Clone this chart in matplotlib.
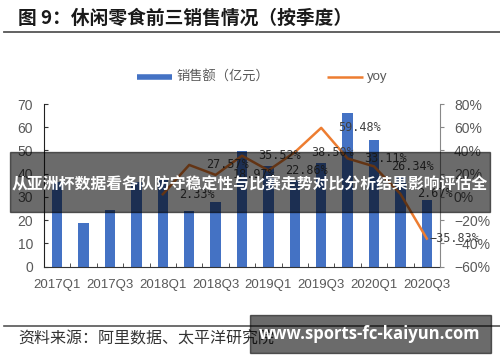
import matplotlib
matplotlib.use("Agg")
import numpy as np
from matplotlib import pyplot as plt
from matplotlib.lines import Line2D
from matplotlib.patches import Rectangle
from matplotlib.ticker import FuncFormatter, MultipleLocator

CJK = ['Noto Sans CJK SC', 'DejaVu Sans']
plt.rcParams['font.family'] = CJK

quarters = ['2017Q1', '2017Q2', '2017Q3', '2017Q4',
            '2018Q1', '2018Q2', '2018Q3', '2018Q4',
            '2019Q1', '2019Q2', '2019Q3', '2019Q4',
            '2020Q1', '2020Q2', '2020Q3']
sales = [36.3, 18.7, 24.4, 36.6, 37.2, 23.8, 27.8, 49.6,
         43.2, 37.5, 44.5, 66.1, 54.6, 38.5, 28.6]
# yoy starts one year after the first quarter
yoy = [np.nan, np.nan, np.nan, np.nan, 2.33, 27.57, 18.97, 35.52,
       22.86, 38.50, 59.48, 33.11, 26.34, 2.67, -35.83]

BAR_COLOR = '#4472C4'
LINE_COLOR = '#ED7D31'
TICK_COLOR = '#595959'

W, H = 500, 362
fig = plt.figure(figsize=(W / 100, H / 100), dpi=100)


def fx(px):
    return px / W


def fy(py):
    return 1 - py / H


# header
fig.text(fx(18), fy(18), '图 9：休闲零食前三销售情况（按季度）', fontsize=13.5,
         fontweight='bold', color='#1a1a1a', va='center', ha='left')
fig.add_artist(Line2D([fx(4), fx(500)], [fy(32), fy(32)], color='#555555', lw=1.3))

# legend
fig.add_artist(Line2D([fx(137), fx(172)], [fy(77), fy(77)], color=BAR_COLOR, lw=4,
                      solid_capstyle='butt'))
fig.text(fx(176), fy(77), '销售额（亿元）', fontsize=9.5, color=TICK_COLOR, va='center')
fig.add_artist(Line2D([fx(327), fx(363)], [fy(77), fy(77)], color=LINE_COLOR, lw=1.8,
                      solid_capstyle='butt'))
fig.text(fx(367), fy(77), 'yoy', fontsize=9.5, color=TICK_COLOR, va='center',
         family='Liberation Sans')

# axes
ax = fig.add_axes([fx(44), fy(266.7), fx(440) - fx(44), fy(104) - fy(266.7)])
ax2 = ax.twinx()
x = np.arange(len(quarters))

ax.bar(x, sales, width=0.4, color=BAR_COLOR, zorder=2)
ax.set_xlim(-0.5, len(quarters) - 0.5)
ax.set_ylim(0, 70)
ax.yaxis.set_major_locator(MultipleLocator(10))

yoy_arr = np.array(yoy)
ax2.plot(x, yoy_arr, color=LINE_COLOR, lw=1.8, zorder=3)
ax2.set_ylim(-60, 80)
ax2.yaxis.set_major_locator(MultipleLocator(20))
ax2.yaxis.set_major_formatter(FuncFormatter(lambda v, p: f'{v:.0f}%'.replace('-', '\u2212')))

for i, v in enumerate(yoy_arr):
    if np.isnan(v):
        continue
    off = 2 if v < 0 else 12
    txt = f'{v:.2f}%'.replace('-', '\u2212')
    ax2.annotate(txt, (x[i], v), xytext=(off, 0), textcoords='offset points',
                 ha='left', va='center', fontsize=8.5, color='#404040',
                 family='DejaVu Sans Mono', zorder=4)

# x ticks: labels every other quarter, tick marks at category edges
ax.set_xticks(x[::2])
ax.set_xticklabels(quarters[::2])
ax.set_xticks(np.arange(-0.5, len(quarters), 1), minor=True)
ax.tick_params(axis='x', which='major', length=0, pad=9, labelsize=9.5,
               labelcolor=TICK_COLOR)
ax.tick_params(axis='x', which='minor', length=3, direction='in', color='#333333')
ax.tick_params(axis='y', length=3, direction='in', labelsize=10, labelcolor=TICK_COLOR,
               color='#333333', pad=8)
ax2.tick_params(axis='y', length=3, direction='out', labelsize=10, labelcolor=TICK_COLOR,
                color='#888888', pad=7)
for lab in ax.get_xticklabels() + ax.get_yticklabels() + ax2.get_yticklabels():
    lab.set_family('Liberation Sans')

for a in (ax, ax2):
    a.spines['top'].set_visible(False)
    a.set_facecolor('none')
ax.spines['right'].set_visible(False)
ax2.spines['left'].set_visible(False)
ax2.spines['bottom'].set_visible(False)
ax.spines['left'].set_color('#222222')
ax.spines['bottom'].set_color('#333333')
ax2.spines['right'].set_color('#888888')

# footer
fig.add_artist(Line2D([fx(4), fx(500)], [fy(326), fy(326)], color='#555555', lw=1.2))
fig.text(fx(18), fy(339), '资料来源：阿里数据、太平洋研究院', fontsize=11.5,
         color='#333333', va='center', ha='left')

# overlay banners
fig.add_artist(Rectangle((fx(10), fy(211.7)), fx(490) - fx(10), fy(151.7) - fy(211.7),
                         transform=fig.transFigure, color='black', alpha=0.58, zorder=10))
fig.text(fx(250), fy(183), '从亚洲杯数据看各队防守稳定性与比赛走势对比分析结果影响评估全',
         fontsize=11.4, fontweight='bold', color='white', ha='center', va='center',
         zorder=11)
fig.add_artist(Rectangle((fx(250), fy(353)), fx(491) - fx(250), fy(315) - fy(353),
                         transform=fig.transFigure, color='black', alpha=0.58, zorder=10))
fig.text(fx(370), fy(334), 'www.sports-fc-kaiyun.com', fontsize=12, fontweight='bold',
         color='white', ha='center', va='center', family='Open Sans', zorder=11)

fig.savefig('out.png', dpi=100)
